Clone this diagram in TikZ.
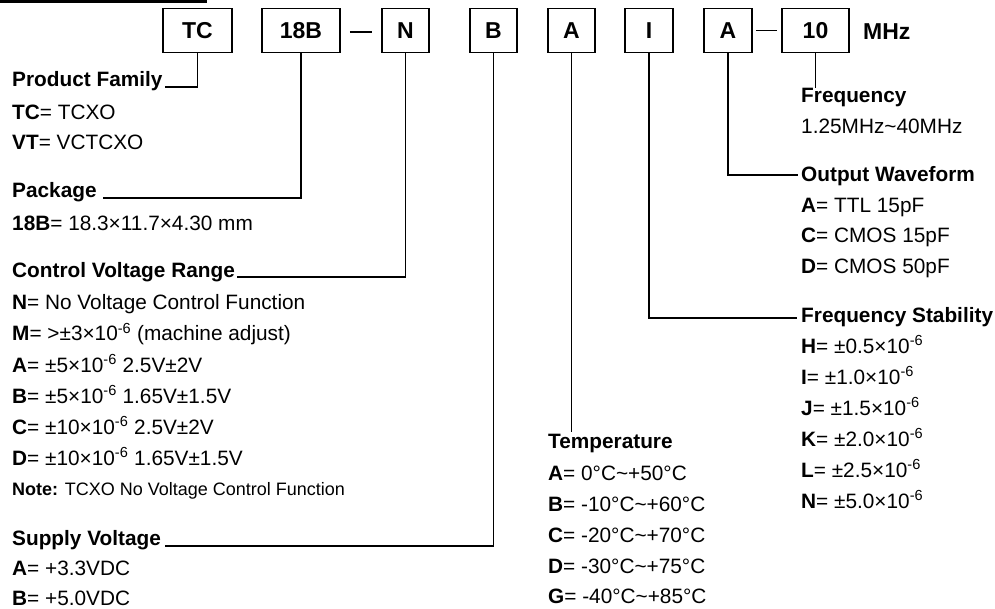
\documentclass[tikz,border=0pt]{standalone}
\usepackage{fontspec}
\setmainfont{Liberation Sans}
\newcommand{\sixneg}{\textsuperscript{-6}}
\newcommand{\tld}{\textasciitilde}
\begin{document}
\begin{tikzpicture}[x=1pt,y=-1pt,
  codebox/.style={draw, line width=1.8pt, minimum width=#1, minimum height=44pt, inner sep=0pt,
    font=\fontsize{23}{23}\selectfont\bfseries},
  txt/.style={anchor=base west, inner sep=0pt, font=\fontsize{20.8}{24}\selectfont},
  hdr/.style={anchor=base west, inner sep=0pt, font=\fontsize{20.8}{24}\selectfont\bfseries},
  small/.style={anchor=base west, inner sep=0pt, font=\fontsize{18}{20}\selectfont},
  conn/.style={line width=1.3pt}]
\useasboundingbox (0,0) rectangle (995,609);
\fill (0,0) rectangle (207,3);
% code boxes
\node[codebox=69pt] (tc)  at (197.5,30.5) {TC};
\node[codebox=78pt] (b18) at (301,30.5) {18B};
\node[codebox=47pt] (nb)  at (405.5,30.5) {N};
\node[codebox=47pt] (bb)  at (493.5,30.5) {B};
\node[codebox=47pt] (ta)  at (571.5,30.5) {A};
\node[codebox=48pt] (ib)  at (649,30.5) {I};
\node[codebox=48pt] (ob)  at (728,30.5) {A};
\node[codebox=67pt] (tb)  at (815.5,30.5) {10};
\node[anchor=base west, inner sep=0pt, font=\fontsize{23}{23}\selectfont\bfseries] (mhz) at (863,40) {MHz};
\draw[conn] ([xshift=9pt,yshift=-1.5pt]b18.east) -- ([xshift=-9pt,yshift=-1.5pt]nb.west);
\draw[conn] ([xshift=3pt]ob.east) -- ([xshift=-4pt]tb.west);
% left column
\node[hdr] (pf) at (12,87) {Product Family};
\node[txt] (pf1) at (12,120) {\textbf{TC}= TCXO};
\node[txt] (pf2) at (12,150) {\textbf{VT}= VCTCXO};
\node[hdr] (pk) at (12,198) {Package};
\node[txt] (pk1) at (12,231) {\textbf{18B}= 18.3×11.7×4.30 mm};
\node[hdr] (cv) at (12,278) {Control Voltage Range};
\node[txt] (cv1) at (12,310) {\textbf{N}= No Voltage Control Function};
\node[txt] (cv2) at (12,341) {\textbf{M}= >±3×10\sixneg{} (machine adjust)};
\node[txt] (cv3) at (12,372) {\textbf{A}= ±5×10\sixneg{} 2.5V±2V};
\node[txt] (cv4) at (12,403) {\textbf{B}= ±5×10\sixneg{} 1.65V±1.5V};
\node[txt] (cv5) at (12,434) {\textbf{C}= ±10×10\sixneg{} 2.5V±2V};
\node[txt] (cv6) at (12,465) {\textbf{D}= ±10×10\sixneg{} 1.65V±1.5V};
\node[small] (note) at (12,495) {\textbf{Note:} TCXO No Voltage Control Function};
\node[hdr] (sv) at (12,545) {Supply Voltage};
\node[txt] (sv1) at (12,575) {\textbf{A}= +3.3VDC};
\node[txt] (sv2) at (12,605) {\textbf{B}= +5.0VDC};
% temperature
\node[hdr] (tp) at (548,448) {Temperature};
\node[txt] (tp1) at (548,480) {\textbf{A}= 0°C\tld+50°C};
\node[txt] (tp2) at (548,511) {\textbf{B}= -10°C\tld+60°C};
\node[txt] (tp3) at (548,542) {\textbf{C}= -20°C\tld+70°C};
\node[txt] (tp4) at (548,573) {\textbf{D}= -30°C\tld+75°C};
\node[txt] (tp5) at (548,603) {\textbf{G}= -40°C\tld+85°C};
% right column
\node[hdr] (fr) at (801,103) {Frequency};
\node[txt] (fr1) at (801,134) {1.25MHz\tld40MHz};
\node[hdr] (ow) at (801,182) {Output Waveform};
\node[txt] (ow1) at (801,213) {\textbf{A}= TTL 15pF};
\node[txt] (ow2) at (801,243) {\textbf{C}= CMOS 15pF};
\node[txt] (ow3) at (801,274) {\textbf{D}= CMOS 50pF};
\node[hdr] (fs) at (801,323) {Frequency Stability};
\node[txt] (fs1) at (801,353) {\textbf{H}= ±0.5×10\sixneg};
\node[txt] (fs2) at (801,384) {\textbf{I}= ±1.0×10\sixneg};
\node[txt] (fs3) at (801,415) {\textbf{J}= ±1.5×10\sixneg};
\node[txt] (fs4) at (801,446) {\textbf{K}= ±2.0×10\sixneg};
\node[txt] (fs5) at (801,477) {\textbf{L}= ±2.5×10\sixneg};
\node[txt] (fs6) at (801,508) {\textbf{N}= ±5.0×10\sixneg};
% connector ends
\coordinate (pfE) at (165,87);
\coordinate (pkE) at (103,198);
\coordinate (cvE) at (237,277);
\coordinate (svE) at (165,546);
\coordinate (tpN) at (571.5,432);
\coordinate (fsW) at (797,318);
\coordinate (owW) at (798,175);
\coordinate (frN) at (815.5,88);
\draw[conn] (tc.south) |- (pfE);
\draw[conn] (b18.south) |- (pkE);
\draw[conn] (nb.south) |- (cvE);
\draw[conn] (bb.south) |- (svE);
\draw[conn] (ta.south) -- (tpN);
\draw[conn] (ib.south) |- (fsW);
\draw[conn] (ob.south) |- (owW);
\draw[conn] (tb.south) -- (frN);
\end{tikzpicture}
\end{document}
